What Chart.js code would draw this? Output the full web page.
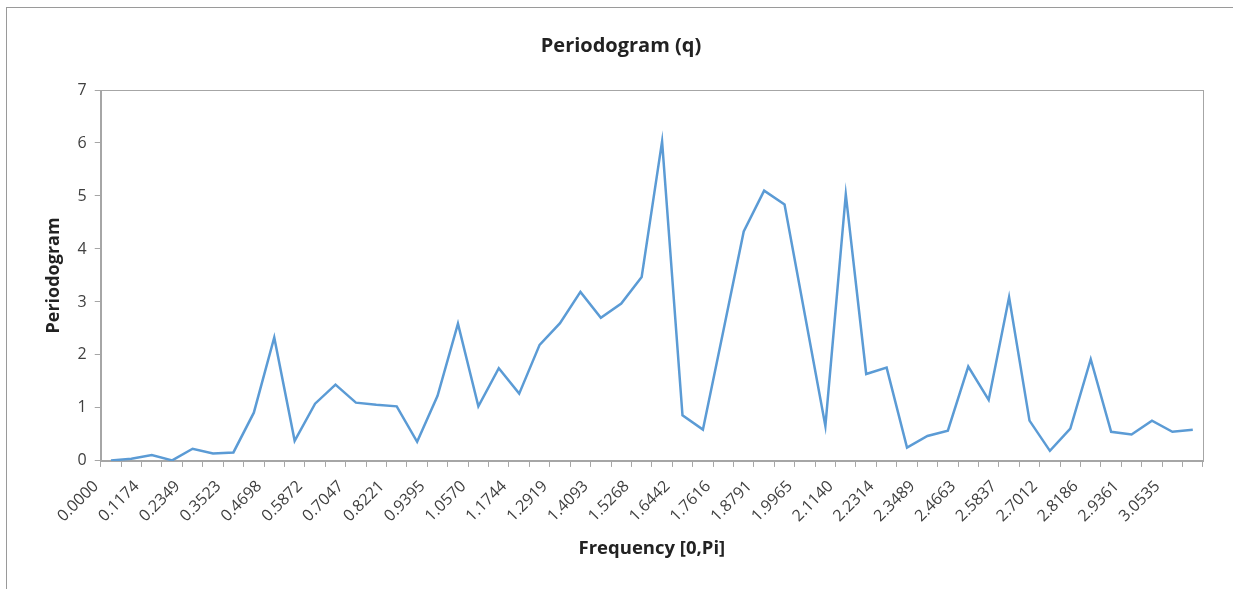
<!DOCTYPE html>
<html>
<head>
<meta charset="utf-8">
<script src="https://cdn.jsdelivr.net/npm/chart.js@4/dist/chart.umd.min.js"></script>
<style>
  html, body { margin: 0; padding: 0; background: #fff; overflow: hidden; }
  #frame { position: absolute; left: 6px; top: 7px; width: 1300px; height: 700px; border: 1px solid #9a9a9a; }
  #wrap { position: absolute; left: 0; top: 0; width: 1233px; height: 589px; }
</style>
</head>
<body>
<div id="frame"></div>
<div id="wrap"><canvas id="chart"></canvas></div>
<script>
// frequencies 2*pi*k/107, k = 0..53
const frequencies = [
  '0.0000', '0.0587', '0.1174', '0.1762', '0.2349', '0.2936', '0.3523', '0.4110', '0.4698', '0.5285',
  '0.5872', '0.6459', '0.7047', '0.7634', '0.8221', '0.8808', '0.9395', '0.9983', '1.0570', '1.1157',
  '1.1744', '1.2332', '1.2919', '1.3506', '1.4093', '1.4680', '1.5268', '1.5855', '1.6442', '1.7029',
  '1.7616', '1.8204', '1.8791', '1.9378', '1.9965', '2.0553', '2.1140', '2.1727', '2.2314', '2.2901',
  '2.3489', '2.4076', '2.4663', '2.5250', '2.5837', '2.6425', '2.7012', '2.7599', '2.8186', '2.8773',
  '2.9361', '2.9948', '3.0535', '3.1122'
];

// periodogram values
const periodogram = [
  0.01, 0.04, 0.11, 0.01, 0.23, 0.14, 0.16, 0.91, 2.33, 0.38,
  1.08, 1.44, 1.10, 1.06, 1.03, 0.36, 1.23, 2.59, 1.03, 1.75,
  1.27, 2.19, 2.60, 3.19, 2.70, 2.97, 3.47, 6.03, 0.86, 0.59,
  2.45, 4.33, 5.10, 4.84, 2.75, 0.66, 5.03, 1.64, 1.76, 0.25,
  0.47, 0.57, 1.78, 1.15, 3.09, 0.76, 0.19, 0.61, 1.92, 0.55,
  0.50, 0.76, 0.55, 0.59
];

const axisGrey = '#a6a6a6';
const textColor = '#404040';
const fontFamily = "'Open Sans', 'Noto Sans', sans-serif";

// plot area frame like excel
const plotFrame = {
  id: 'plotFrame',
  afterDraw(chart) {
    const a = chart.chartArea;
    const ctx = chart.ctx;
    ctx.save();
    ctx.strokeStyle = axisGrey;
    ctx.lineWidth = 1;
    ctx.strokeRect(Math.round(a.left) + 0.5, Math.round(a.top) + 0.5, Math.round(a.right - a.left), Math.round(a.bottom - a.top));
    ctx.restore();
  }
};

new Chart(document.getElementById('chart'), {
  type: 'line',
  data: {
    labels: frequencies,
    datasets: [{
      label: 'Periodogram',
      data: periodogram,
      borderColor: '#5b9bd5',
      borderWidth: 2.5,
      pointRadius: 0,
      tension: 0,
      fill: false
    }]
  },
  options: {
    responsive: true,
    maintainAspectRatio: false,
    animation: false,
    layout: { padding: { left: 39, right: 30, top: 0, bottom: 25 } },
    plugins: {
      legend: { display: false },
      tooltip: { enabled: false },
      title: {
        display: true,
        text: 'Periodogram (q)',
        color: '#222',
        font: { family: fontFamily, size: 20, weight: 'bold' },
        padding: { top: 34, bottom: 32 }
      }
    },
    scales: {
      x: {
        offset: true,
        grid: { offset: true, drawOnChartArea: false, color: axisGrey, tickLength: 6 },
        border: { color: axisGrey },
        ticks: {
          autoSkip: false,
          maxRotation: 45,
          minRotation: 45,
          color: textColor,
          padding: 10,
          labelOffset: -15,
          font: { family: fontFamily, size: 16 },
          callback: (v, i) => (i % 2 === 0 ? frequencies[i] : '')
        },
        title: {
          display: true,
          text: 'Frequency [0,Pi]',
          color: '#222',
          font: { family: fontFamily, size: 18.5, weight: 'bold' },
          padding: { top: 2 }
        }
      },
      y: {
        min: 0,
        max: 7,
        grid: { drawOnChartArea: false, color: axisGrey, tickLength: 6 },
        border: { color: axisGrey },
        ticks: {
          stepSize: 1,
          color: textColor,
          padding: 8,
          font: { family: fontFamily, size: 16 }
        },
        title: {
          display: true,
          text: 'Periodogram',
          color: '#222',
          font: { family: fontFamily, size: 18, weight: 'bold' },
          padding: { bottom: 5 }
        }
      }
    }
  },
  plugins: [plotFrame]
});
</script>
</body>
</html>
